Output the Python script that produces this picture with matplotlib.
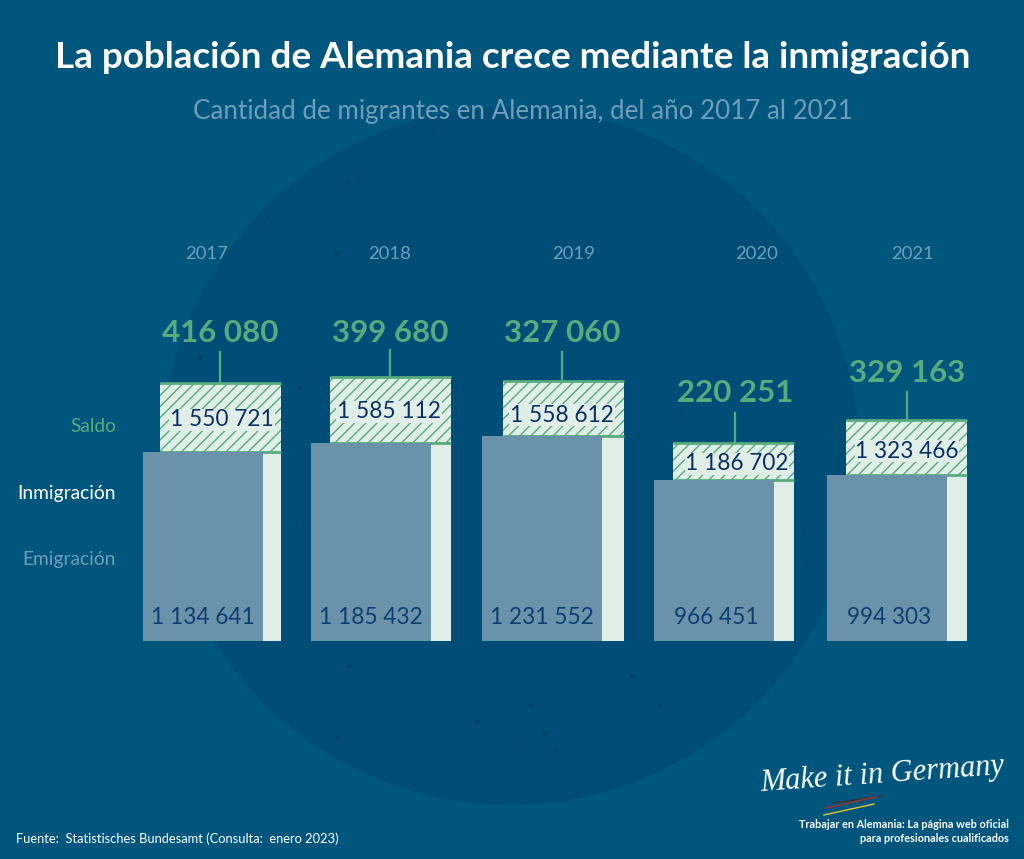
import matplotlib
matplotlib.use("Agg")
import matplotlib.pyplot as plt
from matplotlib.patches import Circle

years = ["2017", "2018", "2019", "2020", "2021"]
immigration = [1550721, 1585112, 1558612, 1186702, 1323466]
emigration = [1134641, 1185432, 1231552, 966451, 994303]
saldo = [416080, 399680, 327060, 220251, 329163]
imm_labels = ["1 550 721", "1 585 112", "1 558 612", "1 186 702", "1 323 466"]
emi_labels = ["1 134 641", "1 185 432", "1 231 552", "966 451", "994 303"]
saldo_labels = ["416 080", "399 680", "327 060", "220 251", "329 163"]
series_names = ["Saldo", "Inmigración", "Emigración"]

BG = "#00567d"
DARK = "#004e77"
SPECK = "#004269"
GREEN = "#57ab7d"
LIGHT = "#dfeee6"
BLUE = "#6a92ab"
NAVY = "#0b2f63"
MUTED = "#6f9dbb"
PEOPLE_PER_PX = 6000
BASE_PX = 641

plt.rcParams["font.family"] = ["Lato", "DejaVu Sans"]
plt.rcParams["hatch.linewidth"] = 1.0

fig = plt.figure(figsize=(10.24, 8.59), dpi=100, facecolor=BG)
# eje a pantalla completa: x en pixeles, y en personas
ax = fig.add_axes([0, 0, 1, 1])
ax.set_xlim(0, 1024)
ax.set_ylim(-(859 - BASE_PX) * PEOPLE_PER_PX, BASE_PX * PEOPLE_PER_PX)
ax.axis("off")
ax.patch.set_alpha(0)


def py(px):
    return (BASE_PX - px) * PEOPLE_PER_PX


# disco de fondo con manchas
bg_ax = fig.add_axes([0, 0, 1, 1], zorder=-1)
bg_ax.set_xlim(0, 1024)
bg_ax.set_ylim(859, 0)
bg_ax.axis("off")
bg_ax.add_patch(Circle((510, 456), 349, color=DARK, lw=0))
speck_x = [349, 435, 262, 337, 200, 318, 300, 303, 717, 683, 805, 803, 356,
           349, 530, 545, 633, 337, 513, 557, 660, 565, 477]
speck_y = [183, 128, 223, 253, 357, 375, 388, 523, 377, 415, 563, 528, 176,
           666, 705, 733, 676, 737, 743, 751, 706, 799, 721]
bg_ax.scatter(speck_x, speck_y, s=12, color=SPECK, lw=0)

emi_left = [143, 311, 482, 654, 827]
imm_left = [160, 330, 503, 673, 846]
year_x = [207, 390, 574, 757, 913]
saldo_x = [220, 390, 562, 735, 907]
saldo_y = [333, 333, 333, 393, 373]
stem_top = [352, 350, 352, 413, 392]
imm_label_x = [222, 389, 562, 737, 907]
imm_label_y = [420, 412, 415, 464, 451]
emi_label_x = [151, 319, 490, 674, 847]
emi_w = 120
imm_w = 121

for i, year in enumerate(years):
    imm = immigration[i]
    emi = emigration[i]

    ax.text(year_x[i], py(254), year, color=MUTED, fontsize=13.3, ha="center", va="center")

    # inmigracion: parte solida y parte rayada (saldo)
    ax.bar(imm_left[i], emi, width=imm_w, align="edge", color=LIGHT, lw=0, zorder=2)
    ax.bar(imm_left[i], imm - emi, bottom=emi, width=imm_w, align="edge", color=LIGHT,
           edgecolor=GREEN, hatch="///", lw=0, zorder=2)
    ax.plot([imm_left[i], imm_left[i] + imm_w], [imm, imm], color=GREEN, lw=2, zorder=3,
            solid_capstyle="butt")
    ax.plot([imm_left[i], imm_left[i] + imm_w], [emi, emi], color=GREEN, lw=2, zorder=3,
            solid_capstyle="butt")
    ax.bar(emi_left[i], emi, width=emi_w, align="edge", color=BLUE, lw=0, zorder=4)

    # linea hacia el saldo
    ax.plot([saldo_x[i], saldo_x[i]], [imm, py(stem_top[i])], color=GREEN, lw=1.6, zorder=3)
    ax.text(saldo_x[i], py(saldo_y[i]), saldo_labels[i], color=GREEN, fontsize=22.5,
            fontweight="bold", ha="center", va="center", zorder=5)

    t = ax.text(imm_label_x[i], py(imm_label_y[i]), imm_labels[i], color=NAVY, fontsize=16.3,
                ha="center", va="center", zorder=5)
    t.set_bbox(dict(facecolor=LIGHT, edgecolor="none", pad=0.5))
    ax.text(emi_label_x[i], py(617), emi_labels[i], color="#0d3f6e", fontsize=16.3,
            ha="left", va="center", zorder=5)

# leyenda
ax.text(116, py(426), series_names[0], color=GREEN, fontsize=13.8, ha="right", va="center")
ax.text(116, py(493), series_names[1], color="white", fontsize=13.8, ha="right", va="center")
ax.text(116, py(559), series_names[2], color=MUTED, fontsize=13.8, ha="right", va="center")

ax.text(513, py(58), "La población de Alemania crece mediante la inmigración", color="white",
        fontsize=26.6, fontweight="bold", ha="center", va="center")
ax.text(523, py(111), "Cantidad de migrantes en Alemania, del año 2017 al 2021", color=MUTED,
        fontsize=18.7, ha="center", va="center")
ax.text(16, py(839), "Fuente:  Statistisches Bundesamt (Consulta:  enero 2023)", color="white",
        fontsize=9.3, ha="left", va="center")

# logo
ax.text(882, py(775), "Make it in Germany", color="white", fontsize=22, style="italic",
        family="Liberation Serif", ha="center", va="center", rotation=4)
for color, y0, y1, x0 in [("#333333", 803, 796, 833), ("#a83232", 808, 797, 826), ("#e8c630", 815, 804, 824)]:
    ax.plot([x0, x0 + 50], [py(y0), py(y1)], color=color, lw=1)
ax.text(1009, py(825), "Trabajar en Alemania: La página web oficial", color="white", fontsize=7.8,
        fontweight="bold", ha="right", va="center")
ax.text(1009, py(838), "para profesionales cualificados", color="white", fontsize=7.8,
        fontweight="bold", ha="right", va="center")

fig.savefig("out.png", dpi=100, facecolor=BG)
